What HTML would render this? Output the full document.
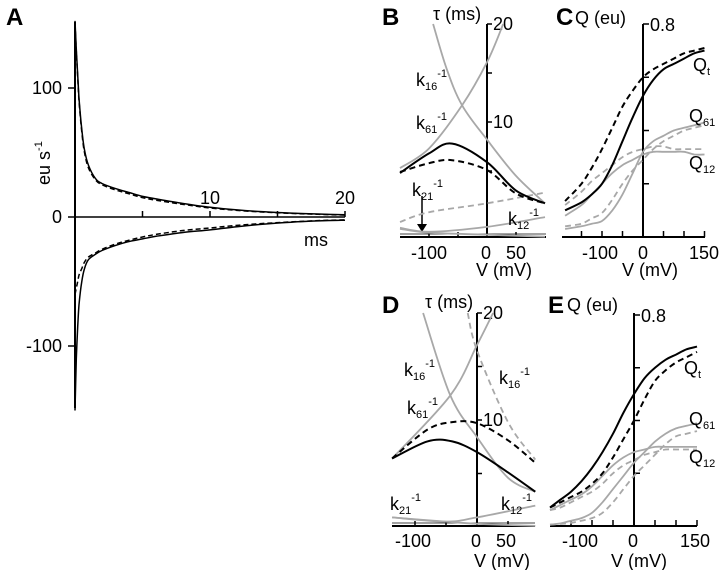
<!DOCTYPE html>
<html><head><meta charset="utf-8"><style>
html,body{margin:0;padding:0;background:#fff;}
svg{display:block;font-family:"Liberation Sans",Arial,sans-serif;}
</style></head><body>
<svg id="fig" width="720" height="570" viewBox="0 0 720 570" xmlns="http://www.w3.org/2000/svg">
<g id="axes"></g>
<g id="marks"></g>
<g id="labels" font-size="18" fill="#000">
 <text x="6" y="25" font-size="24" font-weight="bold">A</text>
 <text x="382" y="25" font-size="24" font-weight="bold">B</text>
 <text x="556" y="25" font-size="24" font-weight="bold">C</text>
 <text x="382" y="313" font-size="24" font-weight="bold">D</text>
 <text x="548" y="313" font-size="24" font-weight="bold">E</text>
 <text transform="translate(50,185) rotate(-90)">eu s<tspan font-size="11" dy="-8">-1</tspan></text>
 <text x="304" y="246">ms</text>
 <text x="433" y="20">τ (ms)</text>
 <text x="476" y="276">V (mV)</text>
 <text x="575" y="24">Q (eu)</text>
 <text x="622" y="276">V (mV)</text>
 <text x="425" y="308">τ (ms)</text>
 <text x="474" y="567">V (mV)</text>
 <text x="567" y="311">Q (eu)</text>
 <text x="611" y="567">V (mV)</text>
 <g>
  <text x="416" y="86">k<tspan font-size="11" dy="4">16</tspan><tspan font-size="11" dy="-13">-1</tspan></text>
  <text x="416" y="129">k<tspan font-size="11" dy="4">61</tspan><tspan font-size="11" dy="-13">-1</tspan></text>
  <text x="412" y="196">k<tspan font-size="11" dy="4">21</tspan><tspan font-size="11" dy="-13">-1</tspan></text>
  <text x="508" y="225">k<tspan font-size="11" dy="4">12</tspan><tspan font-size="11" dy="-13">-1</tspan></text>
 </g>
 <g>
  <text x="693" y="71">Q<tspan font-size="11" dy="4">t</tspan></text>
  <text x="689" y="122">Q<tspan font-size="11" dy="4">61</tspan></text>
  <text x="689" y="169">Q<tspan font-size="11" dy="4">12</tspan></text>
 </g>
 <g>
  <text x="404" y="376">k<tspan font-size="11" dy="4">16</tspan><tspan font-size="11" dy="-13">-1</tspan></text>
  <text x="407" y="414">k<tspan font-size="11" dy="4">61</tspan><tspan font-size="11" dy="-13">-1</tspan></text>
  <text x="499" y="384">k<tspan font-size="11" dy="4">16</tspan><tspan font-size="11" dy="-13">-1</tspan></text>
  <text x="390" y="510">k<tspan font-size="11" dy="4">21</tspan><tspan font-size="11" dy="-13">-1</tspan></text>
  <text x="501" y="510">k<tspan font-size="11" dy="4">12</tspan><tspan font-size="11" dy="-13">-1</tspan></text>
 </g>
 <g>
  <text x="684" y="374">Q<tspan font-size="11" dy="4">t</tspan></text>
  <text x="689" y="425">Q<tspan font-size="11" dy="4">61</tspan></text>
  <text x="689" y="463">Q<tspan font-size="11" dy="4">12</tspan></text>
 </g>
</g>
</svg>
<script>
// ---------- Panel A data ----------
const aTimes = [0,0.1,0.2,0.3,0.5,0.7,1,1.5,2,3,4,5,6,8,10,12,14,16,18,20];
const aPosSolid = [152,130,110,92,68,52,40,30,26,22,19,16,14,10.5,7.5,5.5,4,3,2.3,1.7];
const aPosDashed = [150,128,108,90,66,50,38,29,25,21,18,15,13,9.8,7,5.1,3.8,2.8,2.1,1.5];
const aNegSolid = [-150,-110,-85,-68,-50,-40,-33,-29,-26,-22,-19,-17,-15,-12,-10,-7.5,-5.5,-4,-3,-2.5];
const aNegDashed = [-60,-55,-50,-45,-40,-35,-31,-28,-25,-21,-18,-15.5,-13.5,-10.5,-8.5,-6.5,-5,-3.8,-2.8,-2.2];
const aYTicks = [100,0,-100];
const aXTicks = [5,10,15,20];
const aXLabels = [10,20];

// ---------- Panel B data ----------
const bK16V = [-93,-70,-43,0,50,100];
const bK16 = [20,15.5,11.7,8.2,4.5,1.7];
const bK61V = [-150,-100,-43,0,28];
const bK61 = [5.3,7.3,11.7,16.1,20];
const bTauV = [-150,-100,-60,0,50,100];
const bTauSolid = [4.8,6.8,7.8,5.9,3,1.7];
const bTauDashed = [4.9,5.8,6.1,5.1,2.7,1.7];
const bK12DV = [-150,-100,0,100];
const bK12Dashed = [-0.2,0.8,1.7,2.8];
const bK12V = [-150,-100,0,100];
const bK12 = [-0.8,-1.2,-0.7,0.3];
const bK21 = [-0.9,-1.3,-1.5,-1.7];
const bYTicks = [20,15,10,5];
const bXTicks = [-100,-50,0,50];

// ---------- Panel C data ----------
const cV = [-190,-150,-125,-100,-75,-50,-25,0,25,50,75,100,125,150];
const cQtSolid = [0.1,0.13,0.16,0.2,0.27,0.36,0.45,0.53,0.59,0.63,0.65,0.67,0.69,0.70];
const cQtDashed = [0.135,0.2,0.26,0.33,0.41,0.49,0.55,0.6,0.63,0.65,0.67,0.69,0.7,0.71];
const cQ61Solid = [0.03,0.04,0.05,0.06,0.1,0.16,0.24,0.32,0.36,0.38,0.4,0.41,0.42,0.43];
const cQ61Dashed = [0.04,0.05,0.07,0.09,0.14,0.2,0.25,0.29,0.33,0.36,0.38,0.40,0.41,0.42];
const cQ12Solid = [0.08,0.12,0.16,0.2,0.24,0.27,0.29,0.31,0.32,0.32,0.32,0.32,0.31,0.31];
const cQ12Dashed = [0.12,0.17,0.21,0.24,0.27,0.3,0.32,0.33,0.34,0.34,0.33,0.33,0.33,0.33];
const cYTicks = [0.8,0.6,0.4,0.2];
const cXTicks = [-150,-100,-50,0,50,100,150];

// ---------- Panel D data ----------
const dK16V = [-87,-43,0,50,94];
const dK16 = [20,12.3,8.4,4.6,3.3];
const dK61V = [-137,-43,0,26];
const dK61 = [6.4,12.3,17,20];
const dK16DV = [-15,0,50,94];
const dK16Dashed = [20,16.5,9.8,6.3];
const dTauV = [-137,-80,-40,0,50,94];
const dTauDashed = [6.4,9.1,9.8,9.7,8.1,6];
const dTauSolid = [6.4,8,8,7,5.1,3.3];
const dKV = [-137,-50,0,94];
const dK12 = [0.9,0.5,0.9,2];
const dK21 = [0.9,0.5,0.3,0.1];
const dYTicks = [20,15,10,5];
const dXTicks = [-100,-50,0,50];

// ---------- Panel E data ----------
const eV = [-200,-175,-150,-125,-100,-75,-50,-25,0,25,50,75,100,125,150];
const eQtSolid = [0.07,0.1,0.13,0.17,0.22,0.28,0.35,0.43,0.5,0.56,0.6,0.63,0.65,0.67,0.68];
const eQtDashed = [0.07,0.09,0.11,0.13,0.16,0.2,0.26,0.33,0.4,0.48,0.55,0.59,0.62,0.64,0.66];
const eQ61Solid = [0.005,0.01,0.02,0.03,0.05,0.09,0.14,0.19,0.24,0.28,0.32,0.35,0.37,0.38,0.39];
const eQ61Dashed = [0.005,0.008,0.012,0.02,0.03,0.05,0.09,0.14,0.19,0.23,0.27,0.31,0.34,0.35,0.36];
const eQ12Solid = [0.06,0.08,0.1,0.12,0.15,0.19,0.23,0.26,0.28,0.29,0.3,0.3,0.3,0.3,0.3];
const eQ12Dashed = [0.06,0.07,0.09,0.11,0.13,0.16,0.2,0.23,0.25,0.27,0.28,0.29,0.29,0.29,0.29];
const eYTicks = [0.8,0.6,0.4,0.2];
const eXTicks = [-150,-100,-50,0,50,100,150];

const NS = 'http://www.w3.org/2000/svg';
const axesG = document.getElementById('axes');
const marksG = document.getElementById('marks');
function el(tag, attrs, parent){ const e=document.createElementNS(NS,tag); for(const k in attrs) e.setAttribute(k,attrs[k]); parent.appendChild(e); return e; }
function lin(d0,d1,r0,r1){ return v => r0 + (v-d0)*(r1-r0)/(d1-d0); }

function smooth(pts){
  let d='M'+pts[0][0].toFixed(1)+','+pts[0][1].toFixed(1);
  for(let i=0;i<pts.length-1;i++){
    const p0=pts[Math.max(0,i-1)],p1=pts[i],p2=pts[i+1],p3=pts[Math.min(pts.length-1,i+2)];
    const c1=[p1[0]+(p2[0]-p0[0])/6,p1[1]+(p2[1]-p0[1])/6];
    const c2=[p2[0]-(p3[0]-p1[0])/6,p2[1]-(p3[1]-p1[1])/6];
    d+=' C'+c1[0].toFixed(1)+','+c1[1].toFixed(1)+' '+c2[0].toFixed(1)+','+c2[1].toFixed(1)+' '+p2[0].toFixed(1)+','+p2[1].toFixed(1);
  }
  return d;
}
function series(xs, ys, sx, sy, style, name){
  const pts = xs.map((x,i)=>[sx(x), sy(ys[i])]);
  const p = el('path', {d:smooth(pts), fill:'none', stroke:style.c, 'stroke-width':style.w}, marksG);
  if(style.dash) p.setAttribute('stroke-dasharray', style.dash);
  
  
  return p;
}
function line(x1,y1,x2,y2,w,name,c){
  const l = el('line',{x1:x1,y1:y1,x2:x2,y2:y2,stroke:c||'#000','stroke-width':w},axesG);
  
  
  return l;
}
function txt(x,y,s,anchor,name){
  const t = el('text',{x:x,y:y,'font-size':18,'text-anchor':anchor||'middle'},axesG);
  t.textContent = s;
  
  
  return t;
}
const BLK={c:'#000',w:2}, BLKD={c:'#000',w:2,dash:'6,4'}, GR={c:'#a8a8a8',w:1.8}, GRD={c:'#a8a8a8',w:1.8,dash:'6,4'};
const BLKA={c:'#000',w:1.5}, BLKAD={c:'#000',w:1.5,dash:'5,3'};

// ===== Panel A =====
{
  const sx = lin(0,20,75,345), sy = lin(0,100,217,88);
  line(75,22,75,408,2,'a-y-axis');
  line(75,217,345,217,1.5,'a-x-axis');
  aYTicks.forEach(v=>{ line(68,sy(v),75,sy(v),1.5,'a-y-tick'); txt(62,sy(v)+6,String(v),'end','a-y-tick-label'); });
  aXTicks.forEach(v=>{ line(sx(v),217,sx(v),211,1.5,'a-x-tick'); });
  aXLabels.forEach(v=>{ txt(sx(v),204,String(v),'middle','a-x-tick-label'); });
  series(aTimes,aPosSolid,sx,sy,BLKA,'a-positive-solid');
  series(aTimes,aPosDashed,sx,sy,BLKAD,'a-positive-dashed');
  series(aTimes,aNegSolid,sx,sy,BLKA,'a-negative-solid');
  series(aTimes,aNegDashed,sx,sy,BLKAD,'a-negative-dashed');
}
// ===== Panel B =====
{
  const sx = lin(0,-100,487,429), sy = lin(0,10,220,122);
  series(bK16V,bK16,sx,sy,GR,'b-k16-inv');
  series(bK61V,bK61,sx,sy,GR,'b-k61-inv');
  series(bK12DV,bK12Dashed,sx,sy,GRD,'b-k12-inv-dashed');
  series(bK12V,bK12,sx,sy,GR,'b-k12-inv');
  series(bK12V,bK21,sx,sy,GR,'b-k21-inv');
  series(bTauV,bTauSolid,sx,sy,BLK,'b-tau-solid');
  series(bTauV,bTauDashed,sx,sy,BLKD,'b-tau-dashed');
  line(487,24,487,237,2,'b-y-axis');
  line(400,237,546,237,2,'b-x-axis');
  line(400,234,546,234,1,'b-x-axis-inner','#444');
  bYTicks.forEach(v=>{ line(487,sy(v),492,sy(v),1.5,'b-y-tick'); });
  [20,10].forEach(v=>{ txt(493,sy(v)+6,String(v),'start','b-y-tick-label'); });
  bXTicks.forEach(v=>{ line(sx(v),237,sx(v),232,1.5,'b-x-tick'); });
  txt(429,259,'-100','middle','b-x-tick-label');
  txt(486,259,'0','middle','b-x-tick-label');
  txt(516,259,'50','middle','b-x-tick-label');
  line(422,196,422,228,1.5,'b-arrow-shaft');
  const ah = el('path',{d:'M417,224 L427,224 L422,232 Z',fill:'#000'},axesG);
  
  
}
// ===== Panel C =====
{
  const sx = lin(0,-100,643,602), sy = lin(0,0.8,237,24);
  series(cV,cQ61Solid,sx,sy,GR,'c-q61-solid');
  series(cV,cQ61Dashed,sx,sy,GRD,'c-q61-dashed');
  series(cV,cQ12Solid,sx,sy,GR,'c-q12-solid');
  series(cV,cQ12Dashed,sx,sy,GRD,'c-q12-dashed');
  series(cV,cQtSolid,sx,sy,BLK,'c-qt-solid');
  series(cV,cQtDashed,sx,sy,BLKD,'c-qt-dashed');
  line(643,24,643,237,2,'c-y-axis');
  line(562,237,705,237,2,'c-x-axis');
  cYTicks.forEach(v=>{ line(643,sy(v),649,sy(v),1.5,'c-y-tick'); });
  txt(650,31,'0.8','start','c-y-tick-label');
  cXTicks.forEach(v=>{ line(sx(v),237,sx(v),231,1.5,'c-x-tick'); });
  txt(600,259,'-100','middle','c-x-tick-label');
  txt(643,259,'0','middle','c-x-tick-label');
  txt(704,259,'150','middle','c-x-tick-label');
}
// ===== Panel D =====
{
  const sx = lin(0,-100,477,415), sy = lin(0,10,527,420);
  series(dK16V,dK16,sx,sy,GR,'d-k16-inv');
  series(dK61V,dK61,sx,sy,GR,'d-k61-inv');
  series(dK16DV,dK16Dashed,sx,sy,GRD,'d-k16-inv-dashed');
  series(dKV,dK12,sx,sy,GR,'d-k12-inv');
  series(dKV,dK21,sx,sy,GR,'d-k21-inv');
  series(dTauV,dTauSolid,sx,sy,BLK,'d-tau-solid');
  series(dTauV,dTauDashed,sx,sy,BLKD,'d-tau-dashed');
  line(477,313,477,527,2,'d-y-axis');
  line(392,526,535,526,2,'d-x-axis');
  line(392,523,535,523,1,'d-x-axis-inner','#444');
  dYTicks.forEach(v=>{ line(477,sy(v),482,sy(v),1.5,'d-y-tick'); });
  [20,10].forEach(v=>{ txt(483,sy(v)+6,String(v),'start','d-y-tick-label'); });
  dXTicks.forEach(v=>{ line(sx(v),526,sx(v),521,1.5,'d-x-tick'); });
  txt(413,547,'-100','middle','d-x-tick-label');
  txt(476,547,'0','middle','d-x-tick-label');
  txt(506,547,'50','middle','d-x-tick-label');
}
// ===== Panel E =====
{
  const sx = lin(0,-100,634,592), sy = lin(0,0.8,526,315);
  series(eV,eQ61Solid,sx,sy,GR,'e-q61-solid');
  series(eV,eQ61Dashed,sx,sy,GRD,'e-q61-dashed');
  series(eV,eQ12Solid,sx,sy,GR,'e-q12-solid');
  series(eV,eQ12Dashed,sx,sy,GRD,'e-q12-dashed');
  series(eV,eQtSolid,sx,sy,BLK,'e-qt-solid');
  series(eV,eQtDashed,sx,sy,BLKD,'e-qt-dashed');
  line(634,313,634,527,2,'e-y-axis');
  line(550,526,697,526,2,'e-x-axis');
  eYTicks.forEach(v=>{ line(634,sy(v),640,sy(v),1.5,'e-y-tick'); });
  txt(641,322,'0.8','start','e-y-tick-label');
  eXTicks.forEach(v=>{ line(sx(v),526,sx(v),520,1.5,'e-x-tick'); });
  txt(580,547,'-100','middle','e-x-tick-label');
  txt(633,547,'0','middle','e-x-tick-label');
  txt(695,547,'150','middle','e-x-tick-label');
}
</script>
</body></html>
